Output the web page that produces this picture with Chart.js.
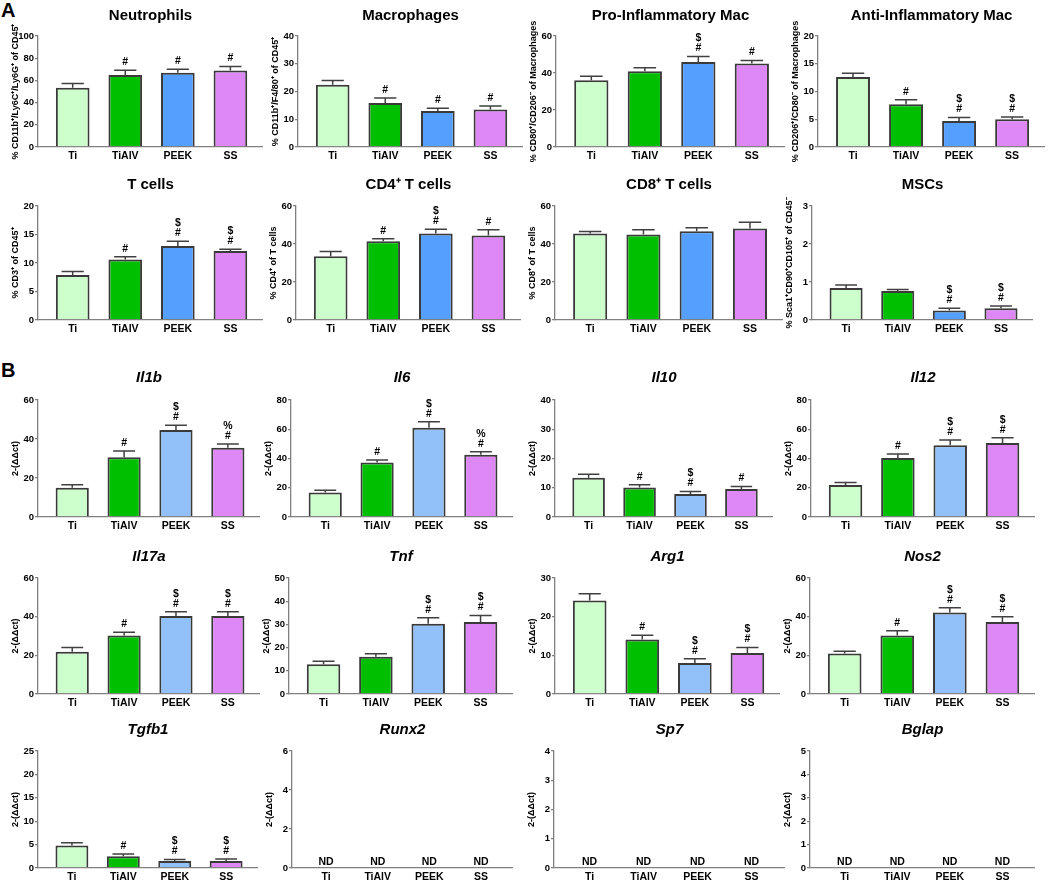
<!DOCTYPE html>
<html>
<head>
<meta charset="utf-8">
<script src="https://cdn.jsdelivr.net/npm/chart.js@4.4.0/dist/chart.umd.min.js"></script>
<style>
    html, body { margin: 0; padding: 0; background: #fff; }
    body { width: 1050px; height: 882px; position: relative; overflow: hidden; font-family: "Liberation Sans", Arial, sans-serif; }
    canvas { position: absolute; }
    .letter { position: absolute; font-weight: bold; font-size: 20px; line-height: 20px; }
</style>
</head>
<body>
<div class="letter" style="left:1px; top:0px;">A</div>
<div class="letter" style="left:1px; top:360px;">B</div>
<script>
// groups on the x axis
const groups = ["Ti", "TiAlV", "PEEK", "SS"];

// A - flow cytometry (mean, SEM, significance marks)
const neutrophilsMean = [53.4, 64.8, 67.0, 68.9];
const neutrophilsSem = [3.8, 4.4, 3.0, 3.6];
const neutrophilsSig = ["", "#", "#", "#"];

const macrophagesMean = [22.4, 15.9, 13.0, 13.5];
const macrophagesSem = [1.6, 1.8, 1.0, 1.3];
const macrophagesSig = ["", "#", "#", "#"];

const proInflamMean = [36.1, 40.9, 46.0, 45.2];
const proInflamSem = [2.2, 1.9, 2.9, 1.5];
const proInflamSig = ["", "", "#$", "#"];

const antiInflamMean = [12.6, 7.7, 4.7, 5.0];
const antiInflamSem = [0.7, 0.8, 0.6, 0.4];
const antiInflamSig = ["", "#", "#$", "#$"];

const tCellsMean = [7.9, 10.6, 13.0, 12.1];
const tCellsSem = [0.6, 0.5, 0.8, 0.3];
const tCellsSig = ["", "#", "#$", "#$"];

const cd4Mean = [33.5, 41.5, 45.5, 44.5];
const cd4Sem = [2.5, 1.2, 2.3, 3.0];
const cd4Sig = ["", "#", "#$", "#"];

const cd8Mean = [45.5, 45.0, 46.7, 48.2];
const cd8Sem = [1.1, 2.5, 1.8, 3.3];
const cd8Sig = ["", "", "", ""];

const mscMean = [0.84, 0.76, 0.25, 0.31];
const mscSem = [0.08, 0.04, 0.06, 0.06];
const mscSig = ["", "", "#$", "#$"];

// B - qPCR 2-(ddct)
const il1bMean = [15.0, 30.6, 44.6, 35.5];
const il1bSem = [1.6, 3.2, 2.4, 1.9];
const il1bSig = ["", "#", "#$", "#%"];

const il6Mean = [16.7, 37.3, 61.0, 42.6];
const il6Sem = [1.6, 1.6, 4.2, 2.0];
const il6Sig = ["", "#", "#$", "#%"];

const il10Mean = [13.4, 10.1, 7.9, 9.6];
const il10Sem = [1.2, 0.9, 0.8, 0.8];
const il10Sig = ["", "#", "#$", "#"];

const il12Mean = [21.8, 40.3, 49.0, 50.6];
const il12Sem = [1.8, 2.8, 3.6, 3.6];
const il12Sig = ["", "#", "#$", "#$"];

const il17aMean = [21.9, 30.3, 40.3, 40.3];
const il17aSem = [2.1, 1.7, 2.2, 2.2];
const il17aSig = ["", "#", "#$", "#$"];

const tnfMean = [12.8, 16.1, 30.3, 31.0];
const tnfSem = [1.3, 1.3, 2.6, 2.8];
const tnfSig = ["", "", "#$", "#$"];

const arg1Mean = [24.2, 14.1, 8.0, 10.6];
const arg1Sem = [1.7, 1.1, 1.1, 1.4];
const arg1Sig = ["", "#", "#$", "#$"];

const nos2Mean = [21.0, 30.2, 42.1, 37.3];
const nos2Sem = [1.1, 2.5, 2.5, 2.6];
const nos2Sig = ["", "#", "#$", "#$"];

const tgfb1Mean = [4.8, 2.5, 1.5, 1.5];
const tgfb1Sem = [0.6, 0.5, 0.3, 0.4];
const tgfb1Sig = ["", "#", "#$", "#$"];

// not detected -> no bar
const ndMean = [null, null, null, null];
const ndSem = [0, 0, 0, 0];
const ndSig = ["", "", "", ""];

const ddct = "2-(\u0394\u0394ct)";

// title, y title, mean, sem, sig, y max, y step
const panels = [
    ["Neutrophils", "% CD11b\u207A/Ly6C\u207A/Ly6G\u207A of CD45\u207A", neutrophilsMean, neutrophilsSem, neutrophilsSig, 100, 20],
    ["Macrophages", "% CD11b\u207A/F4/80\u207A of CD45\u207A", macrophagesMean, macrophagesSem, macrophagesSig, 40, 10],
    ["Pro-Inflammatory Mac", "% CD80\u207A/CD206\u207B of Macrophages", proInflamMean, proInflamSem, proInflamSig, 60, 20],
    ["Anti-Inflammatory Mac", "% CD206\u207A/CD80\u207B of Macrophages", antiInflamMean, antiInflamSem, antiInflamSig, 20, 5],
    ["T cells", "% CD3\u207A of CD45\u207A", tCellsMean, tCellsSem, tCellsSig, 20, 5],
    ["CD4\u207A T cells", "% CD4\u207A of T cells", cd4Mean, cd4Sem, cd4Sig, 60, 20],
    ["CD8\u207A T cells", "% CD8\u207A of T cells", cd8Mean, cd8Sem, cd8Sig, 60, 20],
    ["MSCs", "% Sca1\u207ACD90\u207ACD105\u207A of CD45\u207B", mscMean, mscSem, mscSig, 3, 1],
    ["Il1b", ddct, il1bMean, il1bSem, il1bSig, 60, 20],
    ["Il6", ddct, il6Mean, il6Sem, il6Sig, 80, 20],
    ["Il10", ddct, il10Mean, il10Sem, il10Sig, 40, 10],
    ["Il12", ddct, il12Mean, il12Sem, il12Sig, 80, 20],
    ["Il17a", ddct, il17aMean, il17aSem, il17aSig, 60, 20],
    ["Tnf", ddct, tnfMean, tnfSem, tnfSig, 50, 10],
    ["Arg1", ddct, arg1Mean, arg1Sem, arg1Sig, 30, 10],
    ["Nos2", ddct, nos2Mean, nos2Sem, nos2Sig, 60, 20],
    ["Tgfb1", ddct, tgfb1Mean, tgfb1Sem, tgfb1Sig, 25, 5],
    ["Runx2", ddct, ndMean, ndSem, ndSig, 6, 2],
    ["Sp7", ddct, ndMean, ndSem, ndSig, 4, 1],
    ["Bglap", ddct, ndMean, ndSem, ndSig, 5, 1],
];

// layout of the grid (pixels): title centre, plot top, plot bottom, axis x, axis end
const rowBoxes = [
    { titleY: 16, top: 36, bottom: 147, axes: [38, 298, 556, 818], ends: [263, 523, 785, 1045] },
    { titleY: 185, top: 206, bottom: 320, axes: [38, 296, 555, 812], ends: [263, 521, 783, 1033] },
    { titleY: 378, top: 400, bottom: 517, axes: [38, 291, 555, 811], ends: [260, 513, 773, 1035] },
    { titleY: 557, top: 578, bottom: 694, axes: [38, 289, 555, 810], ends: [260, 513, 780, 1035] },
    { titleY: 730, top: 751, bottom: 868, axes: [38, 292, 554, 810], ends: [258, 513, 785, 1035] },
];

const Y_W = 38; // width kept for y ticks + y title
const X_H = 18; // height kept for x labels
const FONT = "'Liberation Sans', Arial, sans-serif";
const axisGrey = "#808080";

Chart.defaults.font.family = FONT;
Chart.defaults.color = "#000";

function drawPanel(p, index) {
    const row = rowBoxes[Math.floor(index / 4)];
    const col = index % 4;
    const partB = index >= 8;
    const [title, yTitle, mean, sem, sig, yMax, yStep] = p;

    const left = row.axes[col] - Y_W;
    const top = row.titleY - 9;
    const canvas = document.createElement("canvas");
    canvas.width = row.ends[col] - left;
    canvas.height = row.bottom - top + X_H;
    canvas.style.left = left + "px";
    canvas.style.top = top + "px";
    document.body.appendChild(canvas);

    const colors = ["#ccffcc", "#00bf00", partB ? "#92c0f8" : "#55a0ff", "#dd88f5"];

    // error bars, significance marks and ND labels
    const extras = {
        id: "extras" + index,
        afterDatasetsDraw(chart) {
            const ctx = chart.ctx;
            const xs = chart.scales.x;
            const ys = chart.scales.y;
            const meta = chart.getDatasetMeta(0);
            ctx.save();
            ctx.textAlign = "center";
            ctx.textBaseline = "middle";
            ctx.fillStyle = "#000";
            mean.forEach(function(v, k) {
                const px = xs.getPixelForValue(k);
                if (v === null) {
                    ctx.font = "bold 10.5px " + FONT;
                    ctx.fillText("ND", px, ys.getPixelForValue(0) - 6);
                    return;
                }
                const base = ys.getPixelForValue(v);
                const errTop = ys.getPixelForValue(v + sem[k]);
                const half = meta.data[k].width * 0.33;
                ctx.strokeStyle = "#404040";
                ctx.lineWidth = 1.5;
                ctx.beginPath();
                ctx.moveTo(px, base);
                ctx.lineTo(px, errTop);
                ctx.moveTo(px - half, errTop);
                ctx.lineTo(px + half, errTop);
                ctx.stroke();
                ctx.font = "bold 10.5px " + FONT;
                sig[k].split("").forEach(function(s, j) {
                    ctx.fillText(s, px, errTop - 8 - j * 10);
                });
            });
            ctx.restore();
        },
    };

    new Chart(canvas.getContext("2d"), {
        type: "bar",
        data: {
            datasets: [{
                data: mean.map((v, k) => ({ x: k, y: v })),
                backgroundColor: colors,
                borderColor: "#3a3a3a",
                borderWidth: 2,
                borderSkipped: "bottom",
                categoryPercentage: 1,
                barPercentage: 0.64,
            }, ],
        },
        options: {
            responsive: false,
            animation: false,
            layout: { padding: 0 },
            plugins: {
                legend: { display: false },
                tooltip: { enabled: false },
                title: {
                    display: true,
                    text: title,
                    fullSize: false,
                    color: "#000",
                    font: { size: 15, weight: "bold", style: partB ? "italic" : "normal" },
                    padding: { top: 0, bottom: row.top - row.titleY - 9 },
                },
            },
            scales: {
                x: {
                    type: "linear",
                    offset: false,
                    min: -0.66,
                    max: 3.62,
                    grid: { display: false, drawTicks: false, offset: false },
                    border: { color: axisGrey, width: 1.3 },
                    ticks: {
                        padding: 3,
                        color: "#000",
                        font: { size: 10.5, weight: "bold" },
                        callback: (v) => groups[v],
                    },
                    afterBuildTicks: (axis) => {
                        axis.ticks = groups.map((g, k) => ({ value: k }));
                    },
                    afterFit: (axis) => {
                        axis.height = X_H;
                    },
                },
                y: {
                    min: 0,
                    max: yMax,
                    ticks: {
                        stepSize: yStep,
                        padding: 1,
                        color: "#000",
                        font: { size: 9.5, weight: "bold" },
                    },
                    grid: { drawOnChartArea: false, drawTicks: true, tickLength: 3, color: axisGrey, lineWidth: 1.3 },
                    border: { color: axisGrey, width: 1.3 },
                    title: {
                        display: true,
                        text: yTitle,
                        color: "#000",
                        font: { size: 9, weight: "bold" },
                        padding: { top: 10, bottom: 0 },
                    },
                    afterFit: (axis) => {
                        axis.width = Y_W;
                    },
                },
            },
        },
        plugins: [extras],
    });
}

panels.forEach(drawPanel);
</script>
</body>
</html>
